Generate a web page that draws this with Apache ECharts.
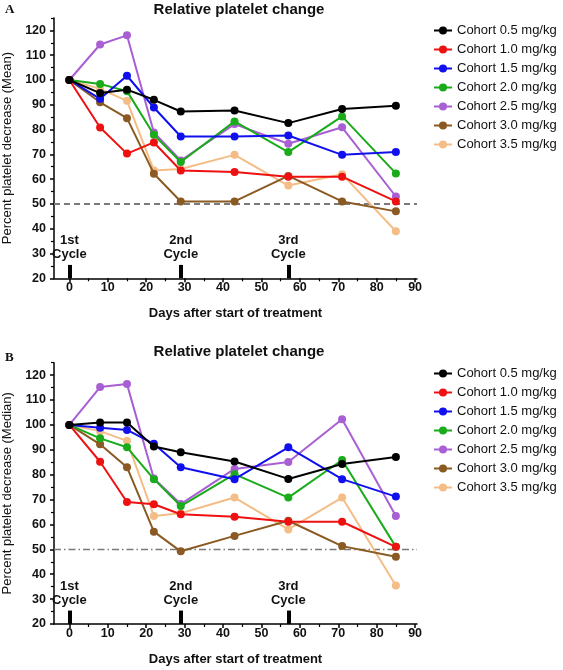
<!DOCTYPE html>
<html>
<head>
<meta charset="utf-8">
<script src="https://cdn.jsdelivr.net/npm/echarts@6/dist/echarts.min.js"></script>
<style>
html,body{margin:0;padding:0;background:#fff;}
#chart{width:563px;height:670px;}
</style>
</head>
<body>
<div id="chart"></div>
<script>
const days = [0, 8, 15, 22, 29, 43, 57, 71, 85];
const cohorts = ['Cohort 0.5 mg/kg', 'Cohort 1.0 mg/kg', 'Cohort 1.5 mg/kg', 'Cohort 2.0 mg/kg', 'Cohort 2.5 mg/kg', 'Cohort 3.0 mg/kg', 'Cohort 3.5 mg/kg'];
const colors = ['#000000', '#ee1111', '#1010ee', '#1aab1a', '#a95fd4', '#8b5a22', '#f4bd86'];

// Panel A: mean
const mean05 = [100, 94.7, 96.1, 92, 87.3, 87.7, 82.6, 88.3, 89.6];
const mean10 = [100, 80.8, 70.3, 74.8, 63.5, 62.9, 61, 61, 51];
const mean15 = [100, 92.4, 101.7, 88.9, 77.2, 77.2, 77.6, 69.8, 70.9];
const mean20 = [100, 98.4, 95.5, 77.9, 66.9, 83.3, 70.9, 85.3, 62.3];
const mean25 = [100, 114.3, 118, 78.8, 67.5, 82.2, 74.3, 80.9, 53];
const mean30 = [100, 91, 84.6, 62.2, 51, 51, 61.3, 51, 47];
const mean35 = [100, 96.4, 91.6, 63.5, 64.1, 69.8, 57.4, 62, 39];

// Panel B: median
const med05 = [100, 101, 101, 91.3, 89, 85.3, 78.3, 84.3, 87.1];
const med10 = [100, 85.2, 69, 68.1, 64.1, 63.1, 61.1, 61.1, 51];
const med15 = [100, 98.9, 98, 92.4, 83, 78.2, 91, 78.2, 71.2];
const med20 = [100, 94.6, 91, 78.2, 67.4, 80.2, 70.8, 85.9, 51];
const med25 = [100, 115.2, 116.4, 78.5, 68.2, 82.3, 85.1, 102.3, 63.4];
const med30 = [100, 92.2, 83, 57.1, 49.2, 55.4, 61.5, 51.3, 47];
const med35 = [100, 97.5, 93.6, 63.4, 64.5, 70.8, 58, 70.8, 35.5];

const xMajorTicks = [0, 10, 20, 30, 40, 50, 60, 70, 80, 90];
const xMinorTicks = [5, 15, 25, 35, 45, 55, 65, 75, 85];
const yMajorTicks = [20, 30, 40, 50, 60, 70, 80, 90, 100, 110, 120];
const yMinorTicks = [25, 35, 45, 55, 65, 75, 85, 95, 105, 115, 125];

const cycleDays = [0, 29, 57];
const cycleNames = ['1st\nCycle', '2nd\nCycle', '3rd\nCycle'];
const cycleBarTop = 25.4;
const threshold = 50;

const meanData = [mean05, mean10, mean15, mean20, mean25, mean30, mean35];
const medData = [med05, med10, med15, med20, med25, med30, med35];

const FONT = 'Liberation Sans, Arial, sans-serif';
const chart = echarts.init(document.getElementById('chart'));

const grids = [
  {left: 54, top: 18, width: 363, height: 260.3, containLabel: false, outerBoundsMode: 'none'},
  {left: 54, top: 362.7, width: 363, height: 261.3, containLabel: false, outerBoundsMode: 'none'}
];

const xAxes = [], yAxes = [];
[0, 1].forEach(g => {
  xAxes.push({
    type: 'value', gridIndex: g, min: -4, max: 90.5,
    name: 'Days after start of treatment', nameLocation: 'middle', nameGap: 29,
    nameTextStyle: {fontFamily: FONT, fontWeight: 'bold', fontSize: 13, color: '#111'},
    axisLine: {show: true, onZero: false, lineStyle: {color: '#000', width: 1.5}},
    axisTick: {show: true, customValues: xMajorTicks, length: 4, lineStyle: {color: '#000', width: 1.5}},
    axisLabel: {customValues: xMajorTicks, fontFamily: FONT, fontWeight: 'bold', fontSize: 12.5, color: '#111', margin: 3},
    splitLine: {show: false}
  });
  xAxes.push({
    type: 'value', gridIndex: g, min: -4, max: 90.5, position: 'bottom',
    axisLine: {show: false, onZero: false},
    axisTick: {show: true, customValues: xMinorTicks, length: 3, lineStyle: {color: '#000', width: 1.2}},
    axisLabel: {show: false}, splitLine: {show: false}
  });
  yAxes.push({
    type: 'value', gridIndex: g, min: 20, max: 125,
    name: g === 0 ? 'Percent platelet decrease (Mean)' : 'Percent platelet decrease (Median)',
    nameLocation: 'middle', nameGap: 29, nameRotate: 90,
    nameTextStyle: {fontFamily: FONT, fontSize: 13, color: '#111'},
    axisLine: {show: true, onZero: false, lineStyle: {color: '#000', width: 1.5}},
    axisTick: {show: true, customValues: yMajorTicks, length: 4, lineStyle: {color: '#000', width: 1.5}},
    axisLabel: {customValues: yMajorTicks, fontFamily: FONT, fontWeight: 'bold', fontSize: 12.5, color: '#111', margin: 8},
    splitLine: {show: false}
  });
  yAxes.push({
    type: 'value', gridIndex: g, min: 20, max: 125, position: 'left',
    axisLine: {show: false, onZero: false},
    axisTick: {show: true, customValues: yMinorTicks, length: 3, lineStyle: {color: '#000', width: 1.2}},
    axisLabel: {show: false}, splitLine: {show: false}
  });
});

const series = [];
[meanData, medData].forEach((dataset, g) => {
  // threshold + cycle markers
  series.push({
    type: 'line', xAxisIndex: g * 2, yAxisIndex: g * 2, data: [], silent: true, z: 1,
    markLine: {
      symbol: 'none', silent: true, animation: false,
      data: [
        {yAxis: threshold, lineStyle: g === 0
          ? {type: [6, 4], color: '#7a7a7a', width: 2.2}
          : {type: [7, 3, 1.5, 3], color: '#7a7a7a', width: 1.4}, label: {show: false}}
      ].concat(cycleDays.map((d, i) => [
        {coord: [d, 20], lineStyle: {type: 'solid', color: '#000', width: 4},
          label: {show: true, position: 'end', formatter: cycleNames[i], fontFamily: FONT, fontWeight: 'bold', fontSize: 13, color: '#111', lineHeight: 14, distance: 3}},
        {coord: [d, cycleBarTop]}
      ]))
    }
  });
  dataset.forEach((vals, i) => {
    series.push({
      name: cohorts[i], type: 'line', xAxisIndex: g * 2, yAxisIndex: g * 2,
      data: days.map((d, k) => [d, vals[k]]),
      symbol: 'circle', symbolSize: 8, z: 20 - i,
      lineStyle: {color: colors[i], width: 2},
      itemStyle: {color: colors[i]},
      animation: false
    });
  });
});

const legendCommon = {
  orient: 'vertical', left: 428, itemWidth: 18, itemHeight: 10, itemGap: 6,
  data: cohorts, selectedMode: false,
  textStyle: {fontFamily: FONT, fontSize: 13, color: '#111'}
};

chart.setOption({
  backgroundColor: '#fff',
  animation: false,
  color: colors,
  grid: grids,
  xAxis: xAxes,
  yAxis: yAxes,
  legend: [
    Object.assign({}, legendCommon, {top: 19}),
    Object.assign({}, legendCommon, {top: 362})
  ],
  graphic: [
    {type: 'text', left: 5, top: 3, style: {text: 'A', fontFamily: 'Liberation Serif, serif', fontWeight: 'bold', fontSize: 13, fill: '#111'}},
    {type: 'text', left: 5, top: 351, style: {text: 'B', fontFamily: 'Liberation Serif, serif', fontWeight: 'bold', fontSize: 13, fill: '#111'}},
    {type: 'text', x: 239, y: 10, style: {text: 'Relative platelet change', fontFamily: FONT, fontWeight: 'bold', fontSize: 15, fill: '#111', align: 'center', verticalAlign: 'middle'}},
    {type: 'text', x: 239, y: 352, style: {text: 'Relative platelet change', fontFamily: FONT, fontWeight: 'bold', fontSize: 15, fill: '#111', align: 'center', verticalAlign: 'middle'}}
  ],
  series: series
});
</script>
</body>
</html>
